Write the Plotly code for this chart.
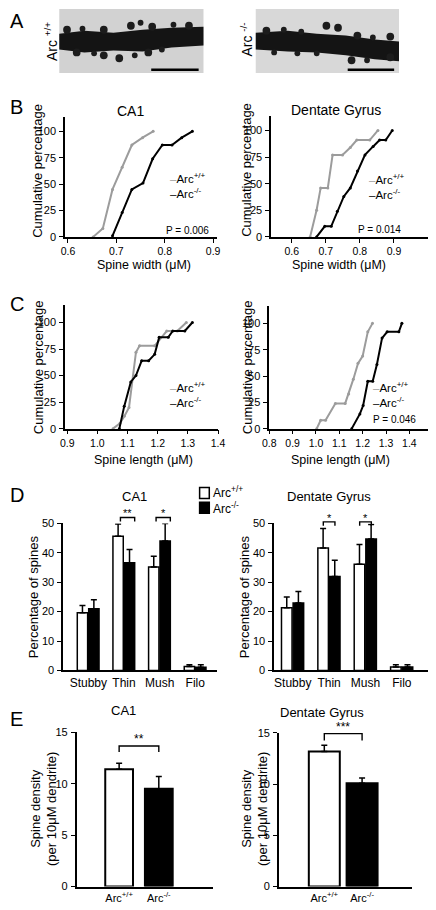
import plotly.graph_objects as go

W, H = 436, 910
FONT = "Liberation Sans, Arial, Helvetica, sans-serif"
GRAY = "#9c9c9c"

# ---------------- data ----------------
# B: cumulative spine width
b_ca1_wt_width = [0.652, 0.672, 0.692, 0.712, 0.732, 0.754, 0.776]
b_ca1_wt_pct = [0, 8, 45, 66, 87, 94, 100]
b_ca1_ko_width = [0.692, 0.712, 0.732, 0.755, 0.775, 0.795, 0.815, 0.835, 0.857]
b_ca1_ko_pct = [1, 23, 45, 51, 74, 87, 87, 94, 100]
b_dg_wt_width = [0.654, 0.673, 0.685, 0.706, 0.720, 0.749, 0.772, 0.791, 0.829, 0.853]
b_dg_wt_pct = [0, 25, 46, 46, 77, 77, 84, 91, 91, 100]
b_dg_ko_width = [0.673, 0.697, 0.716, 0.734, 0.753, 0.772, 0.793, 0.815, 0.839, 0.858, 0.876, 0.895]
b_dg_ko_pct = [0, 10, 10, 24, 38, 46, 62, 77, 85, 91, 91, 100]

# C: cumulative spine length
c_ca1_wt_len = [1.052, 1.075, 1.09, 1.105, 1.128, 1.14, 1.19, 1.23, 1.265, 1.295]
c_ca1_wt_pct = [0, 5, 12, 20, 72, 78, 78, 92, 92, 100]
c_ca1_ko_len = [1.073, 1.089, 1.111, 1.128, 1.147, 1.17, 1.19, 1.205, 1.235, 1.25, 1.29, 1.315]
c_ca1_ko_pct = [0, 21, 44, 50, 64, 64, 70, 86, 86, 92, 92, 100]
c_dg_wt_len = [1.003, 1.02, 1.041, 1.083, 1.125, 1.14, 1.16, 1.18, 1.20, 1.222, 1.242]
c_dg_wt_pct = [0, 8, 8, 24, 24, 33, 47, 62, 69, 92, 100]
c_dg_ko_len = [1.153, 1.188, 1.202, 1.222, 1.243, 1.261, 1.283, 1.305, 1.355, 1.368]
c_dg_ko_pct = [0, 14, 22, 45, 45, 61, 86, 92, 92, 100]

# D: spine types (%)
d_categories = ["Stubby", "Thin", "Mush", "Filo"]
d_ca1_wt = [19.6, 45.6, 35.2, 1.3]
d_ca1_wt_err = [2.5, 4.2, 3.6, 0.6]
d_ca1_ko = [21.0, 36.6, 44.0, 1.1]
d_ca1_ko_err = [3.0, 4.5, 6.0, 0.8]
d_dg_wt = [21.3, 41.6, 36.1, 1.2]
d_dg_wt_err = [3.7, 6.7, 6.7, 0.7]
d_dg_ko = [22.9, 31.9, 44.7, 1.2]
d_dg_ko_err = [3.9, 5.6, 4.9, 0.7]
d_ca1_sig = {"Thin": "**", "Mush": "*"}
d_dg_sig = {"Thin": "*", "Mush": "*"}

# E: spine density
e_groups = ["Arc<sup>+/+</sup>", "Arc<sup>-/-</sup>"]
e_ca1 = [11.4, 9.5]
e_ca1_err = [0.6, 1.2]
e_dg = [13.2, 10.1]
e_dg_err = [0.6, 0.5]
e_ca1_sig = "**"
e_dg_sig = "***"

# ---------------- layout helpers ----------------
def fx(px):
    return px / W

def fy(py):
    return 1 - py / H

# pixel domains (x0, x1), (ytop, ybottom) and data ranges
AX = {
    1: dict(xd=(60, 217), yd=(112, 234), xr=(0.594, 0.908), yr=(0, 114)),
    2: dict(xd=(273, 435), yd=(111, 234), xr=(0.54, 1.0), yr=(0, 114)),
    3: dict(xd=(60, 218), yd=(303, 428.3), xr=(0.893, 1.4), yr=(0, 116.5)),
    4: dict(xd=(271, 435), yd=(304, 428.3), xr=(0.8, 1.48), yr=(0, 116.5)),
    5: dict(xd=(58, 217), yd=(524.3, 673.3), xr=(-0.707, 3.61), yr=(0, 50)),
    6: dict(xd=(276, 435), yd=(524.3, 673.3), xr=(-0.512, 3.72), yr=(0, 50)),
    7: dict(xd=(72, 213), yd=(736, 892.3), xr=(-1.07, 2.37), yr=(0, 15)),
    8: dict(xd=(281, 418), yd=(736.7, 892.3), xr=(-1.2, 2.31), yr=(0, 15)),
}

def d2p(i, x, y):
    a = AX[i]
    x0, x1 = a["xd"]; yt, yb = a["yd"]
    r0, r1 = a["xr"]; s0, s1 = a["yr"]
    px = x0 + (x - r0) / (r1 - r0) * (x1 - x0)
    py = yb - (y - s0) / (s1 - s0) * (yb - yt)
    return px, py

def xa(i):
    return "x" if i == 1 else f"x{i}"

def ya(i):
    return "y" if i == 1 else f"y{i}"

fig = go.Figure()
annotations = []
shapes = []

def text(x, y, s, size=12, xanchor="center", yanchor="middle", angle=0, color="black", align="center"):
    annotations.append(dict(x=fx(x), y=fy(y), xref="paper", yref="paper", text=s,
                            showarrow=False, xanchor=xanchor, yanchor=yanchor, align=align,
                            textangle=angle, font=dict(family=FONT, size=size, color=color)))

# ---------------- panel A (micrograph placeholders) ----------------
def rect_px(x0, y0, x1, y1, fill, line=None):
    shapes.append(dict(type="rect", xref="paper", yref="paper", x0=fx(x0), x1=fx(x1),
                       y0=fy(y1), y1=fy(y0), fillcolor=fill,
                       line=dict(width=0 if line is None else 1.5, color=line or fill), layer="above"))

def circ_px(cx, cy, r, fill):
    shapes.append(dict(type="circle", xref="paper", yref="paper", x0=fx(cx - r), x1=fx(cx + r),
                       y0=fy(cy + r), y1=fy(cy - r), fillcolor=fill, line=dict(width=0), layer="above"))

def band_px(pts_top, pts_bot_rev, fill):
    pts = pts_top + pts_bot_rev
    p = "M " + " L ".join(f"{fx(x):.5f},{fy(y):.5f}" for x, y in pts) + " Z"
    shapes.append(dict(type="path", xref="paper", yref="paper", path=p, fillcolor=fill,
                       line=dict(width=0), layer="above"))

rect_px(54, 3, 203, 68, "#d2d2d2")
rect_px(257, 3, 405, 68, "#d8d8d8")
band_px([(54, 28), (80, 25), (110, 27), (140, 24), (170, 22), (203, 21)],
        [(203, 40), (170, 42), (140, 46), (110, 45), (80, 47), (54, 44)], "#141414")
band_px([(257, 27), (290, 25), (320, 28), (350, 30), (380, 34), (405, 36)],
        [(405, 56), (380, 54), (350, 50), (320, 47), (290, 46), (257, 44)], "#141414")
for cx, cy, r in [(62, 24, 4), (78, 23, 3), (100, 24, 4), (128, 20, 4), (138, 17, 3), (150, 21, 4),
                  (172, 19, 3), (188, 20, 4), (72, 47, 4), (100, 50, 4), (116, 53, 4), (132, 50, 3),
                  (146, 47, 4), (160, 44, 3), (90, 48, 3)]:
    circ_px(cx, cy, r, "#1c1c1c")
for cx, cy, r in [(268, 25, 4), (286, 24, 3), (304, 26, 3), (330, 20, 4), (342, 22, 4), (362, 30, 4),
                  (378, 32, 3), (396, 31, 4), (276, 47, 3), (300, 48, 3), (356, 55, 4), (372, 55, 3),
                  (396, 52, 4), (320, 48, 3)]:
    circ_px(cx, cy, r, "#1c1c1c")
# scale bars
shapes.append(dict(type="line", xref="paper", yref="paper", x0=fx(149), x1=fx(198), y0=fy(64.5), y1=fy(64.5),
                   line=dict(color="black", width=2.5), layer="above"))
shapes.append(dict(type="line", xref="paper", yref="paper", x0=fx(352), x1=fx(400), y0=fy(64.5), y1=fy(64.5),
                   line=dict(color="black", width=2.5), layer="above"))
text(45, 36, "Arc <sup>+/+</sup>", size=14, angle=-90)
text(247, 34, "Arc <sup>-/-</sup>", size=14, angle=-90)

# panel letters
for L, (x, y) in {"A": (10, 15), "B": (10, 102), "C": (10, 302), "D": (10, 496), "E": (10, 723)}.items():
    text(x, y, L, size=20)

# ---------------- axes ----------------
def style_axis(i, xtickvals=None, xticktext=None, ytickvals=None, xticks="outside", xfmt=None):
    a = AX[i]
    xk = "xaxis" if i == 1 else f"xaxis{i}"
    yk = "yaxis" if i == 1 else f"yaxis{i}"
    common = dict(showgrid=False, zeroline=False, showline=True, linecolor="black", linewidth=1.6,
                  tickcolor="black", tickwidth=1.4, ticklen=4, tickfont=dict(family=FONT, size=11, color="black"))
    xd = dict(domain=[fx(a["xd"][0]), fx(a["xd"][1])], range=list(a["xr"]), anchor=ya(i),
              ticks=xticks, tickmode="array", tickvals=xtickvals, ticktext=xticktext, **common)
    if xfmt:
        xd["tickformat"] = xfmt
    yd = dict(domain=[fy(a["yd"][1]), fy(a["yd"][0])], range=list(a["yr"]), anchor=xa(i),
              ticks="outside", tickmode="array", tickvals=ytickvals, ticklabelstandoff=1, **common)
    fig.layout[xk] = xd
    fig.layout[yk] = yd

pct_ticks = [0, 25, 50, 75, 100]
style_axis(1, [0.6, 0.7, 0.8, 0.9], None, pct_ticks, xfmt=".1f")
style_axis(2, [0.6, 0.7, 0.8, 0.9], None, pct_ticks, xfmt=".1f")
style_axis(3, [0.9, 1.0, 1.1, 1.2, 1.3, 1.4], None, pct_ticks, xfmt=".1f")
style_axis(4, [0.8, 0.9, 1.0, 1.1, 1.2, 1.3, 1.4], None, pct_ticks, xfmt=".1f")
pos = list(range(len(d_categories)))
style_axis(5, pos, d_categories, [0, 10, 20, 30, 40, 50], xticks="")
style_axis(6, pos, d_categories, [0, 10, 20, 30, 40, 50], xticks="")
style_axis(7, [0, 1], e_groups, [0, 5, 10, 15], xticks="")
style_axis(8, [0, 1], e_groups, [0, 5, 10, 15], xticks="")
for k in (1, 2, 3, 4):
    key = "xaxis" if k == 1 else "xaxis%d" % k
    fig.layout[key].ticklabelstandoff = 0
    fig.layout[key].tickfont.size = 10.5
for k in (5, 6):
    fig.layout["xaxis%d" % k].tickfont.size = 12
for k in (7, 8):
    fig.layout["xaxis%d" % k].ticklabelstandoff = 0

# ---------------- traces: cumulative curves ----------------
def cum(i, x, y, color):
    fig.add_trace(go.Scatter(x=x, y=y, mode="lines+markers", xaxis=xa(i), yaxis=ya(i),
                             line=dict(color=color, width=2), marker=dict(color=color, size=3),
                             showlegend=False, cliponaxis=False))

cum(1, b_ca1_wt_width, b_ca1_wt_pct, GRAY)
cum(1, b_ca1_ko_width, b_ca1_ko_pct, "black")
cum(2, b_dg_wt_width, b_dg_wt_pct, GRAY)
cum(2, b_dg_ko_width, b_dg_ko_pct, "black")
cum(3, c_ca1_wt_len, c_ca1_wt_pct, GRAY)
cum(3, c_ca1_ko_len, c_ca1_ko_pct, "black")
cum(4, c_dg_wt_len, c_dg_wt_pct, GRAY)
cum(4, c_dg_ko_len, c_dg_ko_pct, "black")

# ---------------- traces: bars ----------------
def bars(i, x, y, err, fill, width, offset, lw=1.5):
    fig.add_trace(go.Bar(x=x, y=y, xaxis=xa(i), yaxis=ya(i), width=width, offset=offset,
                         marker=dict(color=fill, line=dict(color="black", width=lw)),
                         error_y=dict(type="data", array=err, arrayminus=[0] * len(err), symmetric=False,
                                      color="black", thickness=1.5, width=3),
                         showlegend=False))

bars(5, pos, d_ca1_wt, d_ca1_wt_err, "white", 0.29, -0.31)
bars(5, pos, d_ca1_ko, d_ca1_ko_err, "black", 0.29, 0.01)
bars(6, pos, d_dg_wt, d_dg_wt_err, "white", 0.29, -0.31)
bars(6, pos, d_dg_ko, d_dg_ko_err, "black", 0.29, 0.01)
bars(7, [0, 1], e_ca1, e_ca1_err, ["white", "black"], 0.7, -0.35, lw=2)
bars(8, [0, 1], e_dg, e_dg_err, ["white", "black"], 0.82, -0.41, lw=2)

fig.update_layout(barmode="overlay")

# ---------------- significance brackets ----------------
def bracket(i, xl, xr, yv, drop_px, label, size=11, lift=4):
    x0, y0 = d2p(i, xl, yv)
    x1, _ = d2p(i, xr, yv)
    pts = [(x0, y0 + drop_px), (x0, y0), (x1, y0), (x1, y0 + drop_px)]
    p = "M " + " L ".join(f"{fx(a):.5f},{fy(b):.5f}" for a, b in pts)
    shapes.append(dict(type="path", xref="paper", yref="paper", path=p,
                       line=dict(color="black", width=1.4), layer="above"))
    text((x0 + x1) / 2, y0 + lift, label, size=size, yanchor="bottom")

for cat, lab in d_ca1_sig.items():
    k = d_categories.index(cat)
    bracket(5, k - 0.1, k + 0.3, 52.0, 4, lab)
for cat, lab in d_dg_sig.items():
    k = d_categories.index(cat)
    bracket(6, k - 0.16, k + 0.16, 50.5, 4, lab)
bracket(7, 0, 1, 13.66, 6, e_ca1_sig, size=12, lift=2)
bracket(8, 0, 1, 14.94, 7, e_dg_sig, size=12, lift=2)

# ---------------- titles, axis titles, legends ----------------
text(128, 106, "CA1", size=14)
text(340, 105, "Dentate Gyrus", size=14)
text(132, 497, "CA1", size=13)
text(333, 497, "Dentate Gyrus", size=13)
text(120, 714, "CA1", size=13)
text(325, 716, "Dentate Gyrus", size=13)

text(32, 167, "Cumulative percentage", size=13, angle=-90)
text(248, 166, "Cumulative percentage", size=13, angle=-90)
text(32, 366, "Cumulative percentage", size=13, angle=-90)
text(248, 366, "Cumulative percentage", size=13, angle=-90)
text(27, 599, "Percentage of spines", size=13, angle=-90)
text(245, 599, "Percentage of spines", size=13, angle=-90)
text(38, 814, "Spine density<br>(per 10μM dendrite)", size=13, angle=-90)
text(256, 814, "Spine density<br>(per 10μM dendrite)", size=13, angle=-90)

text(142, 262, "Spine width (μM)", size=12.5)
text(343, 262, "Spine width (μM)", size=12.5)
text(141, 460, "Spine length (μM)", size=12.5)
text(345, 460, "Spine length (μM)", size=12.5)

def curve_legend(x, yc):
    s = (f"<span style='color:{GRAY}'>–</span>Arc<sup>+/+</sup><br>"
         "<span style='color:black'>–</span>Arc<sup>-/-</sup>")
    text(x, yc, s, size=11.5, xanchor="left", align="left")

curve_legend(166, 182)
curve_legend(372, 183)
curve_legend(166, 394)
curve_legend(376, 394)
text(187, 227, "P = 0.006", size=10)
text(385, 226, "P = 0.014", size=10)
text(400, 419, "P = 0.046", size=10)

# bar legend (panel D)
rect_px(199, 488, 209, 499, "white", line="black")
rect_px(199, 503, 209, 514, "black", line="black")
text(211, 500.5, "Arc<sup>+/+</sup><br>Arc<sup>-/-</sup>", size=12, xanchor="left", align="left")

fig.update_layout(width=W, height=H, autosize=False, margin=dict(l=0, r=0, t=0, b=0),
                  paper_bgcolor="white", plot_bgcolor="white", showlegend=False,
                  annotations=annotations, shapes=shapes, font=dict(family=FONT, color="black"))

fig.write_html("out.html", config={"displayModeBar": False},
               post_script="document.body.style.margin='0';document.body.style.overflow='hidden';")
